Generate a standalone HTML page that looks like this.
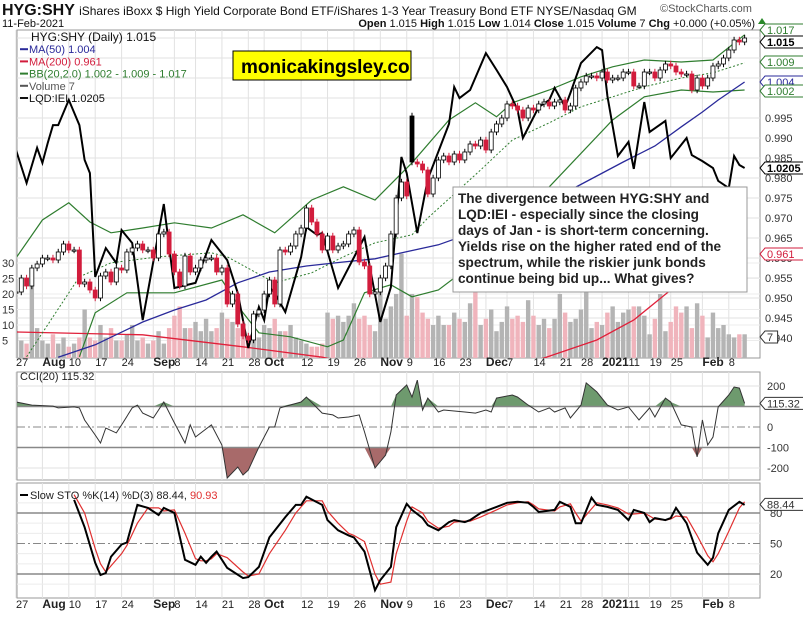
<!DOCTYPE html>
<html><head><meta charset="utf-8"><style>
body{margin:0;background:#fff;}
svg{display:block;font-family:"Liberation Sans",Arial,sans-serif;}
</style></head><body>
<svg id="chart" width="803" height="618" viewBox="0 0 803 618" xmlns="http://www.w3.org/2000/svg">
<defs>
<clipPath id="clipMain"><rect x="17" y="30" width="743" height="328"/></clipPath>
<clipPath id="clipCci"><rect x="17" y="372" width="743" height="108"/></clipPath>
<clipPath id="clipSto"><rect x="17" y="483" width="743" height="115"/></clipPath>
</defs>
<rect width="803" height="618" fill="#fff"/>
<text x="2" y="15" font-size="16" font-weight="bold" fill="#111">HYG:SHY <tspan font-size="12" font-weight="normal">iShares iBoxx $ High Yield Corporate Bond ETF/iShares 1-3 Year Treasury Bond ETF  NYSE/Nasdaq GM</tspan></text>
<text x="660" y="12" font-size="11" fill="#555">©StockCharts.com</text>
<text x="2" y="27" font-size="11" fill="#111">11-Feb-2021</text>
<text x="755" y="27" font-size="11" fill="#111" text-anchor="end"><tspan font-weight="bold">Open</tspan> 1.015 <tspan font-weight="bold">High</tspan> 1.015 <tspan font-weight="bold">Low</tspan> 1.014 <tspan font-weight="bold">Close</tspan> 1.015 <tspan font-weight="bold">Volume</tspan> 7 <tspan font-weight="bold">Chg</tspan> +0.000 (+0.05%)</text>
<path d="M758 24 L762 18 L766 24 Z" fill="#2a8a2a"/>
<g id="gMain"></g><g id="gCci"></g><g id="gSto"></g><g id="gAxes"></g>
</svg>
<script>
const tickDays=[0,5,10,15,20,26,30,34,39,44,47,54,59,64,69,74,79,84,89,93,98,103,107,111,116,120,124,130,135];
const tickLabels=["27","Aug","10","17","24","Sep","8","14","21","28","Oct","12","19","26","Nov","9","16","23","Dec","7","14","21","28","2021","11","19","25","Feb","8"];
const closes=[.9515,.955,.953,.9575,.9585,.960,.960,.9595,.9615,.9635,.962,.962,.9535,.954,.952,.950,.9555,.9565,.954,.9575,.957,.9615,.9625,.9635,.962,.962,.960,.966,.9665,.961,.9565,.953,.9605,.9565,.9575,.9595,.960,.960,.9565,.9575,.9485,.951,.9435,.9405,.9395,.946,.947,.951,.9545,.9485,.962,.9615,.963,.966,.9675,.9725,.969,.966,.962,.9655,.962,.963,.9635,.966,.967,.959,.958,.951,.9515,.955,.958,.966,.975,.979,.9755,.984,.9835,.982,.976,.980,.9845,.9855,.984,.986,.9845,.9865,.9885,.988,.9895,.987,.9915,.9935,.995,.9985,.998,.997,.995,.9975,.997,.9985,.999,.998,.999,.9995,.997,.998,1.0025,1.004,1.0055,1.0055,1.005,1.0065,1.0045,1.005,1.005,1.0065,1.0065,1.003,1.003,1.0065,1.0065,1.005,1.007,1.0085,1.008,1.0065,1.006,1.006,1.002,1.005,1.003,1.005,1.008,1.0085,1.010,1.012,1.0145,1.014,1.015];
const openOverrides={75:0.9955};
const volume=[8,5,4,27,9,5,4,7,4,6,3,4,6,15,6,5,10,6,9,5,5,7,10,5,6,4,5,8,4,9,13,16,9,9,11,8,12,8,9,14,12,11,9,7,5,9,6,10,9,12,8,8,10,6,5,4,3,3,4,14,12,13,11,13,17,12,13,10,8,22,12,16,20,33,13,20,19,14,12,10,13,10,10,14,12,11,17,22,10,12,15,8,11,16,12,13,11,18,13,10,12,9,12,20,14,11,12,15,30,9,11,10,14,16,11,14,15,16,16,13,7,12,20,8,11,16,14,16,9,17,13,6,14,9,10,7,6,7,7];
const ma50Days=[8,15,24,30,36,42,48,55,62,68,72,80,90,100,105,115,121,126,130,133,138];
const ma50Vals=[.9352,.9383,.944,.947,.9495,.9538,.9565,.958,.959,.9598,.961,.9633,.968,.9745,.977,.984,.988,.9928,.9965,.9995,1.004];
const ma200Days=[0,24,43,58,66,85,100,110,117,124,131,138];
const ma200Vals=[.9415,.9408,.9378,.9352,.933,.930,.935,.9395,.9445,.952,.957,.9608];
const bbUpDays=[0,5,10,14,18,24,30,37,43,49,56,62,68,75,82,87,91,94,101,107,113,119,126,132,138];
const bbUpVals=[.960,.9695,.9738,.969,.9663,.9675,.9688,.9675,.9708,.9663,.9745,.9778,.9745,.9838,.9945,.9988,.9953,.9988,1.002,1.0053,1.0078,1.0095,1.009,1.0095,1.0158];
const bbLoDays=[12,15,21,30,39,43,46,52,59,62,66,71,75,80,90,101,113,119,126,132,138];
const bbLoVals=[.9353,.9463,.9513,.9513,.9545,.9463,.9413,.9403,.9378,.9395,.9513,.9533,.9503,.952,.962,.9778,.9945,1.0003,1.002,1.0015,1.002];
const bbMidDays=[2,12,18,27,37,40,49,56,62,68,75,78,88,94,101,107,113,119,126,132,138];
const bbMidVals=[.9353,.9553,.9588,.9603,.9613,.9603,.9538,.9563,.9603,.9638,.9658,.970,.982,.9895,.9938,.9978,1.0003,1.0028,1.005,1.0063,1.0088];
const lqdDays=[0,2,4,5,6,7,8,10,12,13,14,15,17,19,20,22,24,28,30,34,37,40,42,44,46,47,48,49,51,54,55,57,58,61,66,67,69,71,73,74,76,78,82,83,84,86,89,91,93,95,96,99,101,102,104,105,107,110,111,112,114,116,117,119,120,123,124,127,128,130,132,133,135,136,137,138];
const lqdVals=[1.0265,1.0155,1.0272,1.0222,1.0288,1.0348,1.0348,1.0432,1.0348,1.0232,1.0188,.9842,.9938,.9888,.9998,.9955,.9698,1.0085,.9805,.9822,.9965,.9898,.9788,.9605,.9742,.9698,.9808,.9788,.9725,.9908,1.0008,.9982,.9988,.9805,.9975,.9875,.9692,.9808,1.0242,1.0188,.9988,1.0168,1.0352,1.0475,1.0438,1.0465,1.0588,1.0532,1.0475,1.0398,1.0305,1.0408,1.0432,1.0472,1.0408,1.0455,1.0555,1.0608,1.0598,1.0445,1.0245,1.0292,1.0202,1.0425,1.0325,1.0362,1.0238,1.0305,1.0248,1.0228,1.0205,1.0162,1.0138,1.0245,1.0215,1.0205];
const cciDays=[0,3,7,8,11,12,13,15,16,17,19,20,22,23,24,26,28,30,32,33,34,37,39,40,42,43,44,46,48,49,50,54,55,58,60,61,63,65,66,68,70,71,72,74,75,76,77,78,80,81,85,87,89,90,91,94,95,97,99,101,102,104,105,107,108,110,112,114,116,118,120,121,123,124,126,128,129,130,131,132,133,135,136,137,138];
const cciVals=[122,107,102,93,98,93,34,-39,-78,-5,-29,10,93,107,68,44,122,20,-78,10,-49,10,-88,-249,-195,-234,-210,-98,0,0,93,122,146,68,59,44,49,59,-24,-200,-137,-24,156,205,146,229,83,141,73,83,73,68,83,73,141,156,146,107,73,93,73,93,44,107,215,171,107,83,98,34,93,49,141,122,10,0,-146,34,-88,-49,98,156,195,190,115];
const stoDays=[11,13,15,16,17,18,20,21,23,25,27,28,30,32,34,35,36,37,38,40,43,44,46,48,51,53,54,55,58,59,61,63,64,66,68,69,71,72,74,75,77,78,80,82,83,85,86,88,91,93,95,97,98,99,102,103,105,106,107,109,110,112,114,116,117,119,120,121,123,124,125,127,129,131,132,133,135,137,138];
const stoK=[93,66,31,19,21,37,49,51,88,85,78,85,80,34,29,37,31,37,42,26,16,17,27,56,76,88,88,96,88,73,63,58,56,42,4,14,27,66,89,83,75,68,63,71,73,71,73,80,86,90,91,90,86,81,83,91,86,70,70,95,88,86,83,73,83,80,71,75,73,75,85,70,41,29,36,60,83,91,88];
const stoD=[98,80,45,30,22,28,40,48,70,85,85,82,83,60,35,33,33,35,40,36,22,18,20,40,63,80,86,92,92,82,70,60,58,52,20,10,12,40,72,86,80,72,65,67,71,72,72,76,83,88,90,91,88,84,82,86,89,80,72,84,90,88,85,79,79,80,77,74,73,74,77,76,58,38,32,40,62,85,91];

const NS='http://www.w3.org/2000/svg';
const X0=17,X1=760;
function xs(i){return 16+i*5.28;}
function ym(v){return 338-(v-0.940)*4000;}
function yl(v){return 168-(v-1.0205)*3000;}
function yv(v){return 356-v*3.1;}
function yc(v){return 427-v*0.205;}
function ys(v){return 574-(v-20)*1.0167;}
function mk(tag,attrs,parent){const e=document.createElementNS(NS,tag);for(const k in attrs)e.setAttribute(k,attrs[k]);parent.appendChild(e);return e;}
function pathOf(days,vals,yf){return days.map((d,j)=>(j?'L':'M')+xs(d).toFixed(1)+' '+yf(vals[j]).toFixed(1)).join(' ');}
const gM=document.getElementById('gMain'),gC=document.getElementById('gCci'),gS=document.getElementById('gSto'),gA=document.getElementById('gAxes');

// panel backgrounds & grids
function panel(g,y0,y1,name){
  const r=mk('rect',{x:X0,y:y0,width:X1-X0,height:y1-y0,fill:'#fff',stroke:'#999','stroke-width':1},g);
  
  
  tickDays.forEach(d=>{mk('line',{x1:xs(d),x2:xs(d),y1:y0,y2:y1,stroke:'#e2e2e2','stroke-width':1},g);});
}
panel(gM,30,358,'price-panel');
for(let v=0.940;v<=1.0151;v+=0.005){mk('line',{x1:X0,x2:X1,y1:ym(v),y2:ym(v),stroke:'#e2e2e2'},gM);}
for(let v=5;v<=30;v+=5){mk('line',{x1:X0,x2:X1,y1:yv(v),y2:yv(v),stroke:'#ececec'},gM);}
panel(gC,372,480,'cci-panel');
[-200,200].forEach(v=>mk('line',{x1:X0,x2:X1,y1:yc(v),y2:yc(v),stroke:'#e2e2e2'},gC));
panel(gS,483,598,'sto-panel');
[10,30,40,60,70,90].forEach(v=>mk('line',{x1:X0,x2:X1,y1:ys(v),y2:ys(v),stroke:'#ececec'},gS));

// volume
const vg=mk('g',{'clip-path':'url(#clipMain)'},gM);
volume.forEach((v,i)=>{
  const up=i===0||closes[i]>=closes[i-1];
  const b=mk('rect',{x:xs(i)-2.2,y:yv(v),width:4.4,height:356-yv(v)+2,fill:up?'#b4b4b4':'#f0b4bc'},vg);
  
  
});
// overlays
const og=mk('g',{'clip-path':'url(#clipMain)',fill:'none'},gM);
function line(days,vals,yf,attrs,name,g){const p=mk('path',Object.assign({d:pathOf(days,vals,yf),fill:'none'},attrs),g);return p;}
line(ma200Days,ma200Vals,ym,{stroke:'#e0203a','stroke-width':1.3},'ma200-line',og);
line(bbUpDays,bbUpVals,ym,{stroke:'#2f7d2f','stroke-width':1.2},'bb-upper-band',og);
line(bbLoDays,bbLoVals,ym,{stroke:'#2f7d2f','stroke-width':1.2},'bb-lower-band',og);
line(bbMidDays,bbMidVals,ym,{stroke:'#2f7d2f','stroke-width':1,'stroke-dasharray':'2,2'},'bb-middle-band',og);
line(ma50Days,ma50Vals,ym,{stroke:'#2a2a9a','stroke-width':1.3},'ma50-line',og);
// candles
const cg=mk('g',{'clip-path':'url(#clipMain)'},gM);
closes.forEach((c,i)=>{
  const prev=i?closes[i-1]:c;
  const o=openOverrides[i]!==undefined?openOverrides[i]:prev;
  const down=c<prev;
  const col=down?'#d21c3c':'#000';
  const hi=Math.max(o,c)+0.0008,lo=Math.min(o,c)-0.0008;
  const g=mk('g',{},cg);
  
  
  mk('line',{x1:xs(i),x2:xs(i),y1:ym(hi),y2:ym(lo),stroke:col,'stroke-width':1},g);
  const top=ym(Math.max(o,c)),h=Math.max(1.2,Math.abs(ym(o)-ym(c)));
  const filled=c<o;
  mk('rect',{x:xs(i)-2,y:top,width:4,height:h,fill:filled?col:'#fff',stroke:col,'stroke-width':0.8},g);
});
line(lqdDays,lqdVals,yl,{stroke:'#000','stroke-width':2},'lqd-iei-line',og);

// CCI
const cc=mk('g',{'clip-path':'url(#clipCci)'},gC);
const cciPts=cciDays.map((d,j)=>[xs(d),yc(cciVals[j])]);
function fillBand(pts,lvl,above,color){
  let d='';const yL=lvl;
  for(let j=0;j<pts.length-1;j++){
    const [x1,y1]=pts[j],[x2,y2]=pts[j+1];
    const cl=(y)=>above?Math.min(y,yL):Math.max(y,yL);
    d+=`M${x1} ${yL} L${x1} ${cl(y1)} L${x2} ${cl(y2)} L${x2} ${yL} Z `;
  }
  mk('path',{d:d,fill:color,stroke:'none'},cc);
}
fillBand(cciPts,yc(100),true,'#6e9a6e');
fillBand(cciPts,yc(-100),false,'#a86a6a');
mk('line',{x1:X0,x2:X1,y1:yc(100),y2:yc(100),stroke:'#888','stroke-width':1.5},cc);
mk('line',{x1:X0,x2:X1,y1:yc(-100),y2:yc(-100),stroke:'#888','stroke-width':1.5},cc);
mk('line',{x1:X0,x2:X1,y1:yc(0),y2:yc(0),stroke:'#888','stroke-width':1,'stroke-dasharray':'8,3,2,3'},cc);
line(cciDays,cciVals,yc,{stroke:'#333','stroke-width':1},'cci-line',cc);

// STO
const sc=mk('g',{'clip-path':'url(#clipSto)'},gS);
mk('line',{x1:X0,x2:X1,y1:ys(80),y2:ys(80),stroke:'#888','stroke-width':1.5},sc);
mk('line',{x1:X0,x2:X1,y1:ys(20),y2:ys(20),stroke:'#888','stroke-width':1.5},sc);
mk('line',{x1:X0,x2:X1,y1:ys(50),y2:ys(50),stroke:'#888','stroke-width':1,'stroke-dasharray':'8,3,2,3'},sc);
line(stoDays,stoD,ys,{stroke:'#e03030','stroke-width':1.2},'sto-d-line',sc);
line(stoDays,stoK,ys,{stroke:'#000','stroke-width':2},'sto-k-line',sc);

// axes labels
function txt(x,y,s,attrs,name){const t=mk('text',Object.assign({x:x,y:y,'font-size':11,fill:'#222'},attrs||{}),gA);t.textContent=s;return t;}
[366,608].forEach((yy,k)=>{
  tickDays.forEach((d,j)=>{
    const lb=tickLabels[j];const bold=/[A-Za-z]/.test(lb)||lb==='2021';
    txt(Math.max(xs(d),16),yy,lb,{'font-size':bold?12:11,'font-weight':bold?'bold':'normal',fill:'#222'},k?'x-tick-label-bottom':'x-tick-label-top');
  });
});
for(let k=0;k<=11;k++){const v=0.940+k*0.005;txt(765,ym(v)+4,v.toFixed(3),{fill:'#333'},'price-axis-label');}
[30,25,20,15,10,5].forEach(v=>txt(2,yv(v)+4,String(v),{fill:'#333'},'volume-axis-label'));
[[200,'200'],[0,'0'],[-100,'-100'],[-200,'-200']].forEach(a=>txt(767,yc(a[0])+4,a[1],{fill:'#333'},'cci-axis-label'));
[[80,'80'],[50,'50'],[20,'20']].forEach(a=>txt(770,ys(a[0])+4,a[1],{fill:'#333'},'sto-axis-label'));
function tag(y,s,color,bold,name){
  const w=s.length*6.6+6;
  mk('path',{d:`M760 ${y} L765 ${y-6} L${765+w} ${y-6} L${765+w} ${y+6} L765 ${y+6} Z`,fill:'#fff',stroke:color,'stroke-width':1},gA);
  txt(767,y+4,s,{fill:bold?'#000':color,'font-weight':bold?'bold':'normal'},name);
}
tag(ym(1.017),'1.017','#2f7d2f',false,'bb-upper-tag');
tag(ym(1.015)+4,'1.015','#000',true,'last-price-tag');
tag(ym(1.009),'1.009','#2f7d2f',false,'bb-mid-tag');
tag(ym(1.004),'1.004','#2a2a9a',false,'ma50-tag');
tag(ym(1.002)+1,'1.002','#2f7d2f',false,'bb-lower-tag');
tag(yl(1.0205),'1.0205','#000',true,'lqd-tag');
tag(ym(0.961),'0.961','#d21c3c',false,'ma200-tag');
tag(yc(115.32),'115.32','#333',false,'cci-value-tag');
tag(ys(88.44),'88.44','#333',false,'sto-value-tag');
tag(337,'7','#333',false,'volume-tag');

// legends
const L=[['HYG:SHY (Daily) 1.015','#111',12],['MA(50) 1.004','#2a2a9a',11],['MA(200) 0.961','#d21c3c',11],['BB(20,2.0) 1.002 - 1.009 - 1.017','#2f7d2f',11],['Volume 7','#555',11],['LQD:IEI 1.0205','#111',11]];
L.forEach((l,j)=>{const y=41+j*12.2;if(j){mk('line',{x1:20,x2:28,y1:y-4,y2:y-4,stroke:l[1],'stroke-width':2},gA);}txt(j?29:31,y,l[0],{fill:l[1],'font-size':l[2]},'legend-entry');});
txt(20,380,'CCI(20) 115.32',{'font-size':11,fill:'#222'},'cci-legend');
mk('line',{x1:20,x2:28,y1:495,y2:495,stroke:'#000','stroke-width':2},gA);
const st=txt(30,499,'Slow STO %K(14) %D(3) 88.44, ',{'font-size':11,fill:'#222'},'sto-legend');
const sp=document.createElementNS(NS,'tspan');sp.setAttribute('fill','#e03030');sp.textContent='90.93';st.appendChild(sp);

// watermark box
mk('rect',{x:233,y:51,width:178,height:29,fill:'#ffff00',stroke:'#000','stroke-width':1},gA);
txt(241,73,'monicakingsley.co',{'font-size':19,'font-weight':'bold',fill:'#000'},'watermark-text');
// annotation
const ab=mk('rect',{x:453,y:187,width:294,height:105,fill:'#fff',stroke:'#999','stroke-width':1},gA);


['The divergence between HYG:SHY and','LQD:IEI - especially since the closing','days of Jan - is short-term concerning.','Yields rise on the higher rated end of the','spectrum, while the riskier junk bonds','continue being bid up... What gives?'].forEach((s,j)=>txt(458,203+j*16,s,{'font-size':13.6,'font-weight':'bold',fill:'#222'},'annotation-text'));
</script>
</body></html>
